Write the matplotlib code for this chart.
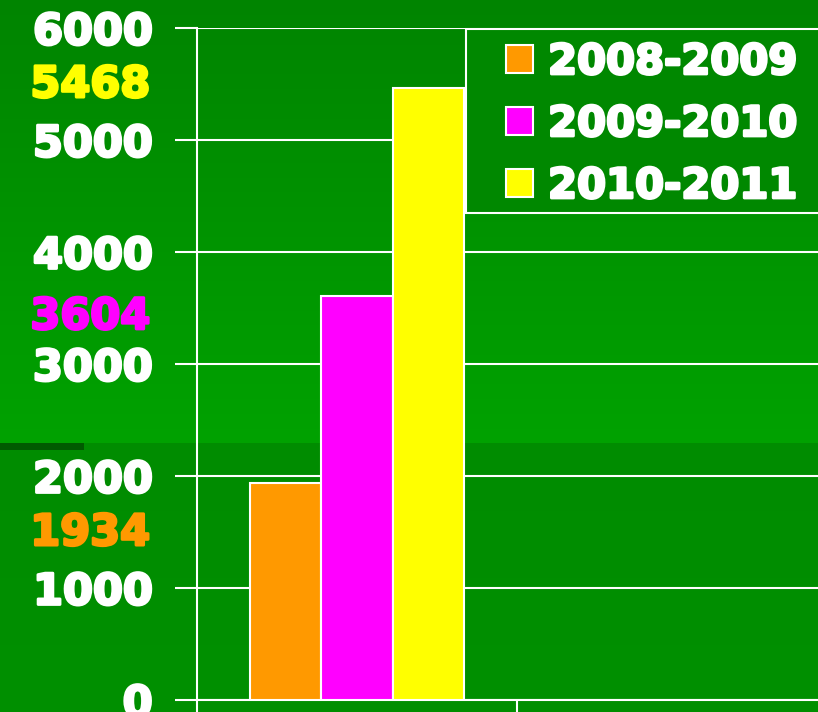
import numpy as np
import matplotlib
matplotlib.use("Agg")
import matplotlib.pyplot as plt
from matplotlib.patches import Rectangle
import matplotlib.patheffects as pe

# ---- data ----
series = ["2008-2009", "2009-2010", "2010-2011"]
values = [1934, 3604, 5468]
colors = ["#FF9900", "#FF00FF", "#FFFF00"]
yticks = [0, 1000, 2000, 3000, 4000, 5000, 6000]

W, H = 818, 712
fig = plt.figure(figsize=(W / 100, H / 100), dpi=100)

def fx(px):
    return px / W

def fy(py):
    return 1 - py / H

FS = 31
LFS = 30

def heavy(color):
    return [pe.withStroke(linewidth=2.0, foreground=color)]

# ---- background gradient ----
bg = fig.add_axes([0, 0, 1, 1], zorder=-10)
img = np.zeros((H, 1, 3))
split = 443
top = np.array([0x00, 0x84, 0x00]) / 255
mid = np.array([0x00, 0xA2, 0x00]) / 255
low1 = np.array([0x00, 0x8C, 0x00]) / 255
low2 = np.array([0x00, 0x90, 0x00]) / 255
for r in range(H):
    if r < split:
        t = r / split
        img[r, 0] = top * (1 - t) + mid * t
    else:
        t = (r - split) / (H - split)
        img[r, 0] = low1 * (1 - t) + low2 * t
bg.imshow(img, aspect="auto", extent=[0, 1, 0, 1], origin="upper",
          interpolation="nearest")
bg.set_xlim(0, 1)
bg.set_ylim(0, 1)
bg.axis("off")
bg.add_patch(Rectangle((0, 1 - 450 / H), 84 / W, 7 / H, color="#005A00", lw=0))

# ---- main axes ----
ax = fig.add_axes([fx(197), 12 / H, 640 / W, 672 / H])
ax.set_facecolor("none")
ax.set_xlim(0, 2)
ax.set_ylim(0, 6000)

bw = 0.222
offsets = [-bw, 0, bw]
for name, v, c, o in zip(series, values, colors, offsets):
    ax.bar(0.5 + o, v, width=bw, color=c, edgecolor="white", linewidth=1.5,
           label=name, zorder=3)

ax.set_axisbelow(True)
ax.yaxis.grid(True, color="white", linewidth=1.5)
ax.set_yticks(yticks)
ax.set_yticklabels([str(t) for t in yticks])
ax.set_xticks([0, 1, 2])
ax.set_xticklabels([])
ax.tick_params(axis="y", colors="white", length=16, width=1.5, pad=16,
               labelsize=FS)
ax.tick_params(axis="x", colors="white", length=16, width=1.5)
for lab in ax.get_yticklabels():
    lab.set_fontweight("bold")
    lab.set_color("white")
    lab.set_path_effects(heavy("white"))
for s in ["top", "right"]:
    ax.spines[s].set_visible(False)
for s in ["left", "bottom"]:
    ax.spines[s].set_color("white")
    ax.spines[s].set_linewidth(1.5)

# coloured value labels between tick labels
label_y = [1530, 3460, 5530]
for v, c, yy in zip(values, colors, label_y):
    ax.text(-0.0734, yy, str(v), transform=ax.get_yaxis_transform(),
            ha="right", va="center_baseline", fontsize=FS, fontweight="bold",
            color=c, clip_on=False, path_effects=heavy(c))

# ---- legend ----
ax.add_patch(Rectangle((fx(466), fy(213)), 400 / W, (213 - 29) / H,
                       transform=fig.transFigure, facecolor="#008800",
                       edgecolor="white", linewidth=1.5, zorder=5,
                       clip_on=False))
leg = ax.legend(loc="upper left", bbox_to_anchor=(fx(506), fy(41)),
                bbox_transform=fig.transFigure, frameon=False, borderpad=0,
                borderaxespad=0, handlelength=0.65, handleheight=0.65,
                handletextpad=0.36, labelspacing=0.48,
                prop={"size": LFS, "weight": "bold"})
leg.set_zorder(6)
for t in leg.get_texts():
    t.set_color("white")
    t.set_path_effects(heavy("white"))

fig.savefig("out.png", dpi=100)
